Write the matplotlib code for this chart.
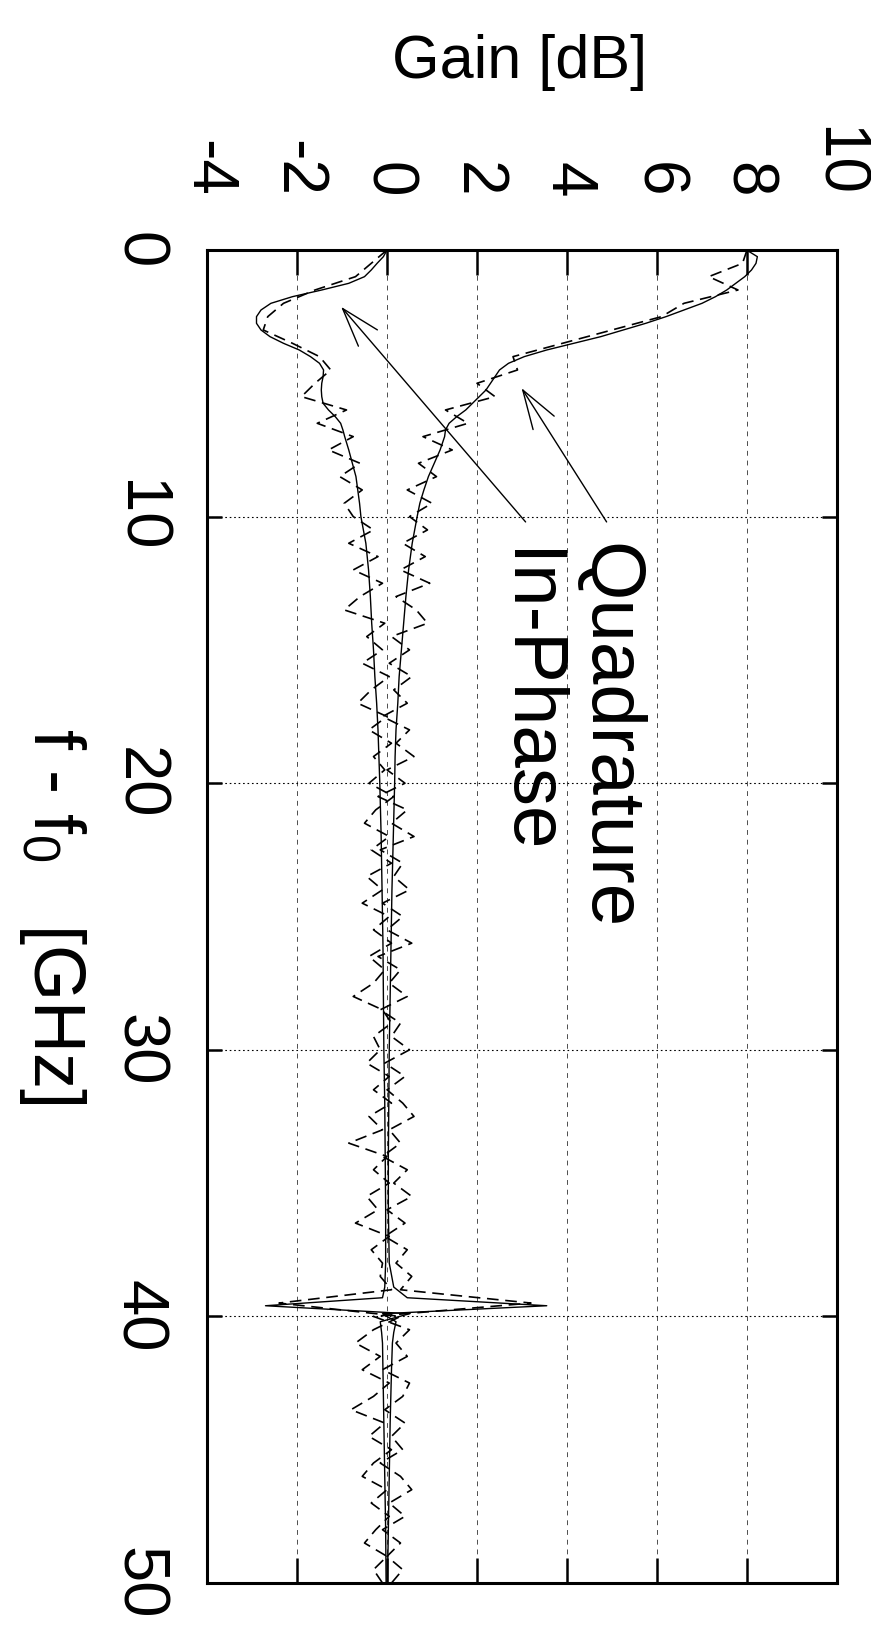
# gain vs. detuning, drawn rotated 90 deg clockwise like the original printout
import numpy as np
import matplotlib
matplotlib.use("Agg")
import matplotlib.pyplot as plt

plt.rcParams['font.family'] = ['Liberation Sans', 'DejaVu Sans']
plt.rcParams['axes.unicode_minus'] = False
plt.rcParams['mathtext.fontset'] = 'custom'
plt.rcParams['mathtext.rm'] = 'Liberation Sans'

gain_ticks = [-4, -2, 0, 2, 4, 6, 8, 10]
gain_labels = ['-4', '-2', '0', '2', '4', '6', '8', '10']
freq_ticks = [0, 10, 20, 30, 40, 50]
freq_labels = ['0', '10', '20', '30', '40', '50']

# fitted (smooth) curves
freq_fit = [0, 0.25, 0.5, 0.75, 1.0, 1.25, 1.5, 1.75, 2.0, 2.25,
            2.5, 2.75, 3.0, 3.25, 3.5, 3.75, 4.0, 4.25, 4.5, 4.75,
            5.0, 5.25, 5.5, 5.75, 6.0, 6.25, 6.5, 6.75, 7.0, 7.5,
            8.0, 8.5, 9.0, 9.5, 10, 11, 12, 13, 14, 15,
            16, 17, 18, 19, 20, 22, 24, 26, 28, 30,
            32, 34, 36, 38, 38.9, 39.3, 39.6, 39.9, 40.2, 40.6,
            41, 42, 44, 46, 48, 50]
inphase_fit = [0.0, -0.08, -0.22, -0.35, -0.5, -0.85, -1.45, -2.1, -2.58, -2.8,
               -2.9, -2.9, -2.8, -2.6, -2.3, -1.95, -1.7, -1.5, -1.41, -1.42,
               -1.45, -1.46, -1.45, -1.42, -1.3, -1.15, -1.03, -0.98, -0.94, -0.85,
               -0.77, -0.69, -0.65, -0.61, -0.58, -0.47, -0.41, -0.37, -0.34, -0.3,
               -0.27, -0.23, -0.2, -0.18, -0.16, -0.13, -0.11, -0.09, -0.08, -0.07,
               -0.05, -0.04, -0.03, -0.03, -0.05, -0.1, -2.7, 0.5, -0.15, -0.12,
               -0.1, -0.09, -0.07, -0.05, -0.03, -0.02]
quad_fit = [7.99, 8.23, 8.2, 8.1, 7.95, 7.75, 7.55, 7.3, 7.0, 6.6,
            6.2, 5.75, 5.25, 4.75, 4.15, 3.55, 3.05, 2.7, 2.5, 2.4,
            2.3, 2.2, 2.05, 1.9, 1.75, 1.55, 1.38, 1.3, 1.28, 1.18,
            1.05, 0.92, 0.82, 0.73, 0.67, 0.56, 0.48, 0.42, 0.37, 0.32,
            0.27, 0.24, 0.2, 0.18, 0.17, 0.14, 0.11, 0.09, 0.07, 0.05,
            0.04, 0.03, 0.03, 0.05, 0.15, 0.45, 3.55, -0.1, 0.2, 0.15,
            0.12, 0.1, 0.07, 0.05, 0.03, 0.01]

# measured (noisy) curves, every 0.5 GHz
freq_meas = np.arange(0, 50.01, 0.5)
inphase_meas = [0.0, -0.35, -0.7, -1.6, -2.3, -2.65, -2.75, -2.1, -1.5, -1.25,
                -1.6, -1.9, -0.9, -1.55, -0.75, -1.3, -0.6, -1.05, -0.55, -0.95,
                -0.75, -0.3, -0.85, -0.2, -0.75, -0.1, -0.6, -0.95, -0.05, -0.45,
                -0.1, -0.55, 0.05, -0.35, -0.65, 0.0, -0.4, 0.1, -0.3, -0.05,
                -0.4, 0.15, -0.25, -0.5, 0.05, -0.35, 0.1, -0.45, -0.1, -0.55,
                0.05, -0.3, 0.1, -0.4, -0.05, -0.3, -0.75, -0.1, 0.1, -0.3,
                -0.15, -0.45, 0.05, -0.3, 0.1, -0.4, -0.1, -0.85, 0.0, -0.3,
                0.05, -0.45, -0.2, -0.7, 0.05, -0.35, -0.1, -0.15, 0.1, -2.4,
                0.3, -0.3, -0.7, -0.15, -0.55, 0.05, -0.3, -0.8, -0.05, -0.4,
                0.1, -0.3, -0.55, 0.0, -0.35, 0.05, -0.25, -0.5, 0.0, -0.3,
                -0.1]
quad_meas = [8.0, 7.9, 7.15, 7.8, 6.6, 6.1, 5.0, 3.9, 2.8, 2.9,
             2.0, 2.4, 1.3, 1.8, 0.8, 1.45, 0.7, 1.1, 0.45, 1.0,
             0.5, 0.9, 0.35, 0.85, 0.3, 0.95, 0.2, 0.65, 0.9, 0.1,
             0.5, 0.05, 0.55, 0.15, 0.45, -0.1, 0.5, 0.2, 0.6, 0.0,
             0.4, -0.2, 0.45, 0.1, 0.6, -0.15, 0.35, 0.15, 0.5, -0.1,
             0.35, 0.0, 0.55, -0.2, 0.3, 0.05, 0.45, -0.15, 0.3, 0.1,
             0.5, -0.05, 0.4, 0.0, 0.35, 0.6, 0.05, 0.3, -0.1, 0.45,
             0.15, 0.55, 0.0, 0.4, -0.05, 0.45, 0.2, 0.55, 0.3, 3.2,
             -0.3, 0.5, 0.2, 0.45, -0.1, 0.5, 0.35, -0.05, 0.4, 0.1,
             0.35, -0.15, 0.3, 0.55, 0.05, 0.4, -0.1, 0.3, 0.0, 0.35,
             0.1]

fig = plt.figure(figsize=(8.71, 16.47), dpi=100)
ax = fig.add_axes([207 / 871, 1 - 1583 / 1647, 630 / 871, 1333 / 1647])

# gain on the horizontal axis, frequency running down
ax.plot(inphase_fit, freq_fit, '-', color='black', lw=1.0)
ax.plot(quad_fit, freq_fit, '-', color='black', lw=1.0)
ax.plot(inphase_meas, freq_meas, color='black', lw=1.2, dashes=(7, 4))
ax.plot(quad_meas, freq_meas, color='black', lw=1.2, dashes=(7, 4))

ax.set_xlim(-4, 10)
ax.set_ylim(50, 0)

for g in gain_ticks[1:-1]:
    ax.axvline(g, color='0.3', lw=0.7, dashes=(5, 5), zorder=0)
for f in freq_ticks[1:-1]:
    ax.axhline(f, color='black', lw=0.8, dashes=(1.5, 2.5), zorder=0)

ax.set_xticks(gain_ticks)
ax.set_xticklabels(gain_labels, rotation=-90)
ax.set_yticks(freq_ticks)
ax.set_yticklabels(freq_labels, rotation=-90, va='center')
ax.tick_params(axis='x', top=True, bottom=True, labeltop=True, labelbottom=False,
               direction='in', length=18, width=1.8, pad=38, labelsize=46)
ax.tick_params(axis='y', left=True, right=True, direction='in',
               length=11, width=1.8, pad=28, labelsize=47)
for s in ax.spines.values():
    s.set_linewidth(2.2)

# labels with arrows
ax.annotate('', xy=(2.99, 5.18), xytext=(4.88, 10.2),
            arrowprops=dict(arrowstyle='->,head_length=1.4,head_width=0.45',
                            lw=1.0, color='black', mutation_scale=20,
                            shrinkA=0, shrinkB=0))
ax.annotate('', xy=(-1.02, 2.13), xytext=(3.08, 10.2),
            arrowprops=dict(arrowstyle='->,head_length=1.4,head_width=0.45',
                            lw=1.0, color='black', mutation_scale=20,
                            shrinkA=0, shrinkB=0))
ax.text(4.93, 11.0, 'Quadrature', rotation=-90, ha='center', va='top', fontsize=55)
ax.text(3.11, 11.2, 'In-Phase', rotation=-90, ha='center', va='top', fontsize=55)

fig.text(0.597, 0.962, 'Gain [dB]', ha='center', va='center', fontsize=44)
fig.text(52 / 871, 1 - 916 / 1647, r'f - f$_\mathregular{0}$   [GHz]',
         rotation=-90, ha='center', va='center', fontsize=52)

fig.savefig("out.png", dpi=100)
